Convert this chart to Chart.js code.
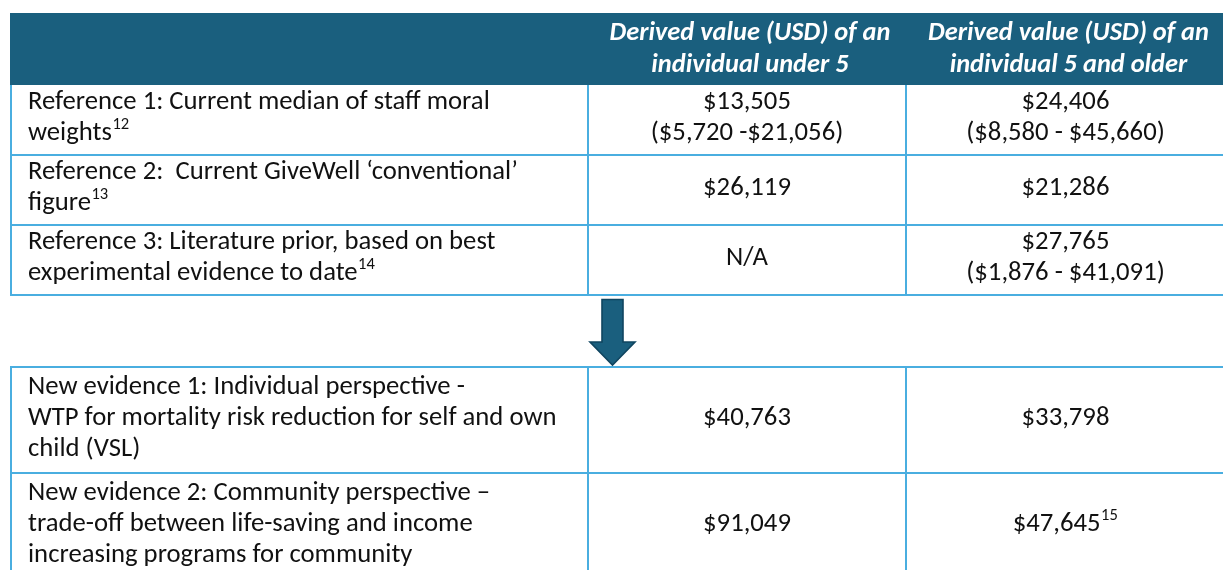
<!DOCTYPE html>
<html><head><meta charset="utf-8">
<script src="https://cdn.jsdelivr.net/npm/chart.js@4/dist/chart.umd.min.js"></script>
<style>html,body{margin:0;padding:0;background:#fff;overflow:hidden}#wrap{width:1223px;height:570px;position:relative}</style>
</head><body><div id="wrap"><canvas id="c" width="1223" height="570"></canvas></div>
<script>
// ---- data ----
const columnHeaders = [
  [],
  ["Derived value (USD) of an", "individual under 5"],
  ["Derived value (USD) of an", "individual 5 and older"]
];
const rowLabels = [
  ["Reference 1: Current median of staff moral", "weights"],
  ["Reference 2:  Current GiveWell \u2018conventional\u2019", "figure"],
  ["Reference 3: Literature prior, based on best", "experimental evidence to date"],
  ["New evidence 1: Individual perspective -", "WTP for mortality risk reduction for self and own", "child (VSL)"],
  ["New evidence 2: Community perspective \u2013", "trade-off between life-saving and income", "increasing programs for community"]
];
const rowNotes = ["12", "13", "14", "", ""];
const under5Values = ["$13,505", "$26,119", "N/A", "$40,763", "$91,049"];
const under5Ranges = ["($5,720 -$21,056)", "", "", "", ""];
const over5Values = ["$24,406", "$21,286", "$27,765", "$33,798", "$47,645"];
const over5Ranges = ["($8,580 - $45,660)", "", "($1,876 - $41,091)", "", ""];
const over5Notes = ["", "", "", "", "15"];

// ---- layout (page units, mapped through chart scales) ----
const L = {
  left: 11, right: 1225, colX: [11, 588, 906, 1225],
  headTop: 13, headBottom: 85,
  t1Rows: [85, 155, 225, 295],
  t2Rows: [367, 473, 580],
  textX: 28, lineH: 31, headLineH: 32
};
const C = {
  head: '#1a5f7e', border: '#4aaee0', text: '#111111', arrow: '#1a5f7e', arrowEdge: '#0f4560'
};
const FONT = 'Carlito, Calibri, Lato, sans-serif';

const tablePlugin = {
  id: 'tableDraw',
  afterDraw(chart) {
    const ctx = chart.ctx, sx = chart.scales.x, sy = chart.scales.y;
    const X = v => sx.getPixelForValue(v), Y = v => sy.getPixelForValue(v);
    ctx.save();
    ctx.font = '20px ' + FONT;
    const bodySize = 20 * 462 / ctx.measureText(rowLabels[0][0]).width;
    ctx.font = 'italic bold 20px ' + FONT;
    const headSize = 20 * 281 / ctx.measureText(columnHeaders[1][0]).width;
    const bodyFont = bodySize.toFixed(2) + 'px ' + FONT;
    const supFont = (bodySize * 0.62).toFixed(2) + 'px ' + FONT;

    // header band
    ctx.fillStyle = C.head;
    ctx.fillRect(X(L.left - 1), Y(L.headTop), X(L.right) - X(L.left - 1), Y(L.headBottom) - Y(L.headTop));
    ctx.fillStyle = '#ffffff';
    ctx.font = 'italic bold ' + headSize.toFixed(2) + 'px ' + FONT;
    ctx.textAlign = 'center'; ctx.textBaseline = 'middle';
    const hc = (L.headTop + L.headBottom) / 2;
    for (let c = 1; c < 3; c++) {
      const cx = (L.colX[c] + L.colX[c + 1]) / 2 + 3;
      const lines = columnHeaders[c];
      lines.forEach((t, i) => ctx.fillText(t, X(cx), Y(hc + (i - (lines.length - 1) / 2) * L.headLineH)));
    }

    const rowBounds = [];
    for (let i = 0; i < 3; i++) rowBounds.push([L.t1Rows[i], L.t1Rows[i + 1]]);
    for (let i = 0; i < 2; i++) rowBounds.push([L.t2Rows[i], L.t2Rows[i + 1]]);

    function drawLines(lines, x, center, align, note) {
      ctx.fillStyle = C.text;
      lines.forEach((t, i) => {
        const y = center + (i - (lines.length - 1) / 2) * L.lineH - 2;
        ctx.font = bodyFont; ctx.textAlign = align;
        ctx.fillText(t, X(x), Y(y));
        if (note && i === lines.length - 1) {
          const w = ctx.measureText(t).width;
          const endX = align === 'left' ? X(x) + w : X(x) + w / 2;
          ctx.font = supFont; ctx.textAlign = 'left';
          ctx.fillText(note, endX + 0.5, Y(y) - bodySize * 0.32);
        }
      });
    }

    rowBounds.forEach(([top, bot], r) => {
      const cy = (top + bot) / 2;
      drawLines(rowLabels[r], L.textX, cy, 'left', rowNotes[r]);
      const u = [under5Values[r]]; if (under5Ranges[r]) u.push(under5Ranges[r]);
      const o = [over5Values[r]]; if (over5Ranges[r]) o.push(over5Ranges[r]);
      drawLines(u, (L.colX[1] + L.colX[2]) / 2, cy, 'center', '');
      if (over5Notes[r]) {
        ctx.font = supFont;
        const wn = ctx.measureText(over5Notes[r]).width;
        const cx = (L.colX[2] + L.colX[3]) / 2 - (wn + 1) / 2;
        drawLines(o, cx, cy, 'center', over5Notes[r]);
      } else {
        drawLines(o, (L.colX[2] + L.colX[3]) / 2, cy, 'center', '');
      }
    });

    // borders
    ctx.strokeStyle = C.border; ctx.lineWidth = 2;
    function hline(y, x0, x1) { ctx.beginPath(); ctx.moveTo(X(x0), Y(y)); ctx.lineTo(X(x1), Y(y)); ctx.stroke(); }
    function vline(x, y0, y1) { ctx.beginPath(); ctx.moveTo(X(x), Y(y0)); ctx.lineTo(X(x), Y(y1)); ctx.stroke(); }
    L.t1Rows.slice(1).forEach(y => hline(y, L.left - 1, L.right));
    L.colX.forEach(x => vline(x, L.t1Rows[0], L.t1Rows[3] + 1));
    L.t2Rows.slice(0, 2).forEach(y => hline(y, L.left - 1, L.right));
    L.colX.forEach(x => vline(x, L.t2Rows[0] - 1, L.t2Rows[2]));

    // arrow
    const ax = 612.5;
    ctx.beginPath();
    ctx.moveTo(X(ax - 10.5), Y(299.5));
    ctx.lineTo(X(ax + 10.5), Y(299.5));
    ctx.lineTo(X(ax + 10.5), Y(342));
    ctx.lineTo(X(ax + 22.5), Y(342));
    ctx.lineTo(X(ax), Y(365));
    ctx.lineTo(X(ax - 22.5), Y(342));
    ctx.lineTo(X(ax - 10.5), Y(342));
    ctx.closePath();
    ctx.fillStyle = C.arrow; ctx.fill();
    ctx.strokeStyle = C.arrowEdge; ctx.lineWidth = 1.6; ctx.lineJoin = 'miter'; ctx.stroke();
    ctx.restore();
  }
};

new Chart(document.getElementById('c'), {
  type: 'scatter',
  data: { datasets: [{ data: [] }] },
  options: {
    responsive: false, animation: false,
    layout: { padding: 0 },
    plugins: { legend: { display: false }, tooltip: { enabled: false } },
    scales: {
      x: { type: 'linear', min: 0, max: 1223, display: false },
      y: { type: 'linear', min: 0, max: 570, reverse: true, display: false }
    }
  },
  plugins: [tablePlugin]
});
</script>
</body></html>
